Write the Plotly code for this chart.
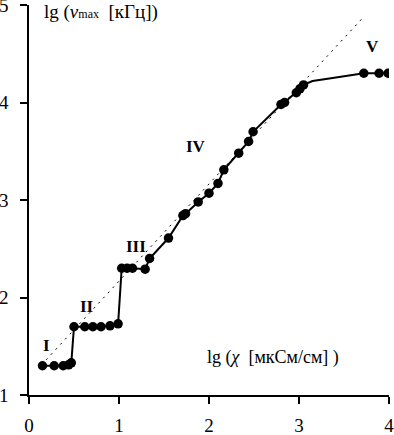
import plotly.graph_objects as go

# measured points (lg chi, lg nu_max)
pts_x = [0.15, 0.28, 0.38, 0.44, 0.47, 0.50, 0.62, 0.71, 0.80, 0.90, 0.99,
         1.03, 1.09, 1.15, 1.29, 1.34, 1.55, 1.71, 1.74, 1.88, 2.00, 2.10,
         2.165, 2.33, 2.44, 2.49, 2.80, 2.84, 2.97, 3.01, 3.05,
         3.72, 3.89, 3.99]
pts_y = [1.30, 1.30, 1.30, 1.31, 1.33, 1.70, 1.70, 1.70, 1.70, 1.71, 1.73,
         2.30, 2.30, 2.30, 2.29, 2.40, 2.61, 2.84, 2.86, 2.98, 3.07, 3.17,
         3.31, 3.48, 3.60, 3.70, 3.98, 4.00, 4.10, 4.14, 4.18,
         4.30, 4.30, 4.30]

# smooth connecting curve between regions IV and V (no markers)
curve_x = [3.05, 3.15, 3.30, 3.45, 3.60, 3.72]
curve_y = [4.18, 4.22, 4.24, 4.26, 4.28, 4.30]

# dotted linear trend
fit_x = [0.19, 3.72]
fit_y = [1.36, 4.88]

region_labels = ["I", "II", "III", "IV", "V"]
region_x = [0.19, 0.64, 1.19, 1.86, 3.82]
region_y = [1.51, 1.91, 2.52, 3.55, 4.57]

x_ticks = [0, 1, 2, 3, 4]
y_ticks = [1, 2, 3, 4, 5]

n_before = 31
line_x = pts_x[:n_before] + curve_x[1:-1] + pts_x[n_before:]
line_y = pts_y[:n_before] + curve_y[1:-1] + pts_y[n_before:]

SERIF = "Liberation Serif, Times New Roman, serif"

fig = go.Figure()
fig.add_trace(go.Scatter(x=fit_x, y=fit_y, mode="lines",
                         line=dict(color="black", width=1, dash="2px,5px"),
                         hoverinfo="skip", showlegend=False))
fig.add_trace(go.Scatter(x=line_x, y=line_y, mode="lines",
                         line=dict(color="black", width=2),
                         showlegend=False))
fig.add_trace(go.Scatter(x=pts_x, y=pts_y, mode="markers",
                         marker=dict(color="black", size=9.5),
                         showlegend=False))

for t, x, y in zip(region_labels, region_x, region_y):
    fig.add_annotation(x=x, y=y, text="<b>%s</b>" % t, showarrow=False,
                       font=dict(family=SERIF, size=17, color="black"))

fig.add_annotation(xref="paper", yref="paper", x=0.035, y=1.0,
                   xanchor="left", yanchor="middle", yshift=-7,
                   text="lg (<i>ν</i><span style='font-size:12px'>max</span>\u00a0\u00a0[кГц])",
                   showarrow=False,
                   font=dict(family=SERIF, size=19, color="black"))
fig.add_annotation(x=1.95, y=1.38, xanchor="left", yanchor="middle",
                   text="lg (<i>χ</i>\u00a0\u00a0[мкСм/см]\u00a0)",
                   showarrow=False,
                   font=dict(family=SERIF, size=18, color="black"))

axis_common = dict(showline=True, linecolor="black", linewidth=1.5,
                   ticks="outside", ticklen=7, tickwidth=1.5, tickcolor="black",
                   showgrid=False, zeroline=False, automargin=False,
                   ticklabeloverflow="allow",
                   tickfont=dict(family=SERIF, size=19, color="black"))
fig.update_xaxes(range=[0, 4], tickvals=x_ticks, ticktext=[str(v) for v in x_ticks],
                 ticklabelstandoff=5, **axis_common)
fig.update_yaxes(range=[1, 5], tickvals=y_ticks, ticktext=[str(v) for v in y_ticks],
                 ticklabelstandoff=8, **axis_common)

fig.update_layout(width=394, height=435,
                  margin=dict(l=29, r=5, t=5, b=40),
                  plot_bgcolor="white", paper_bgcolor="white",
                  showlegend=False)

fig.write_html("out.html", config={"displayModeBar": False},
               post_script="document.body.style.margin='0';")
